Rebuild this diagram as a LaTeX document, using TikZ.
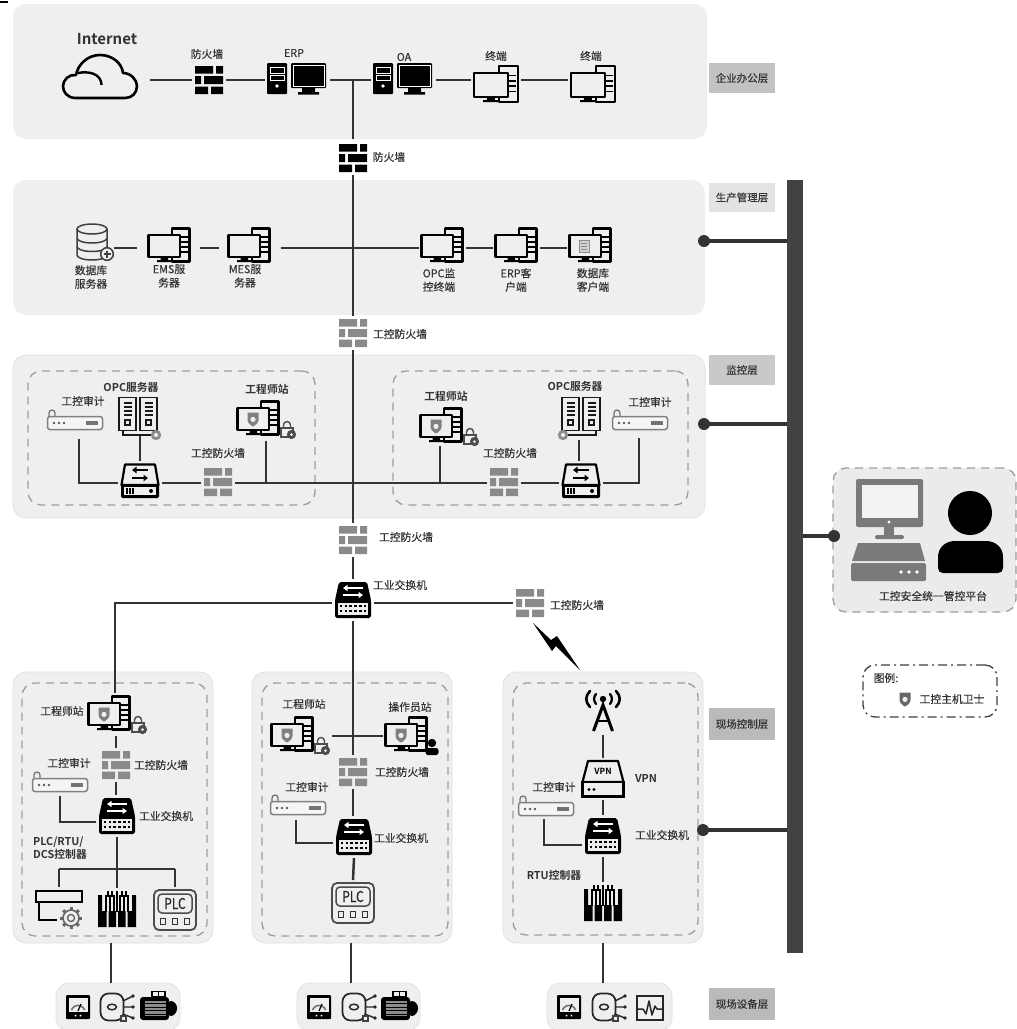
\documentclass[tikz,border=0pt]{standalone}
\usepackage{fontspec}
\setmainfont[FakeBold=0.35]{Noto Sans CJK SC}
\newfontfamily\boldcjk{Noto Sans CJK SC Bold}
\usetikzlibrary{fit,arrows.meta}
\definecolor{panelc}{HTML}{EFEFEF}
\definecolor{ink}{HTML}{333333}
\definecolor{fwgrey}{HTML}{8A8A8A}
\tikzset{
 panel/.style={fill=panelc,draw=panelc!94!black,rounded corners=13pt,inner sep=0pt,outer sep=0pt,line width=.8pt},
 softpanel/.style={fill=panelc,draw=none,rounded corners=13pt,inner sep=0pt,outer sep=0pt},
 dashbox/.style={draw=black!38,line width=1.3pt,dash pattern=on 8pt off 6pt,rounded corners=13pt,inner sep=0pt,outer sep=0pt},
 tagbox/.style={inner sep=0pt,outer sep=0pt,font=\fontsize{10.5}{12}\selectfont,text=ink},
 conn/.style={draw=ink,line width=2.5pt},
 branch/.style={draw=ink,line width=4.8pt},
 lab/.style={font=\fontsize{10.8}{13.5}\selectfont,text=ink,inner sep=0pt,align=center},
 blab/.style={lab,font=\fontsize{10.8}{13.5}\selectfont\boldcjk},
 ib/.style 2 args={minimum width=#1pt,minimum height=#2pt,inner sep=0pt,outer sep=3pt},
 hubdot/.style={circle,fill=ink,minimum size=12pt,inner sep=0pt,outer sep=0pt},
 bk/.style={draw=black,line width=2.1pt,fill=panelc,line join=round},
 pics/firewall/.style={code={
   \fill[#1] (-14,-14) rectangle (4,-6.5) (7,-14) rectangle (14,-6.5)
             (-14,-4) rectangle (-8,4) (-5,-4) rectangle (14,4)
             (-14,6.5) rectangle (-1,14) (2,6.5) rectangle (14,14);}},
 pics/cloud/.style={code={
   \draw[black,line width=2.6pt,fill=panelc,line join=round] (-24,21) .. controls (-33,21) and (-37,15) .. (-37,9) .. controls (-37,3) and (-31,-3) .. (-24,-2) .. controls (-22,-13) and (-12,-22) .. (0,-22) .. controls (12,-22) and (22,-14) .. (23,-4) .. controls (31,-4) and (37,3) .. (37,9) .. controls (37,16) and (32,21) .. (25,21) -- cycle;
   \draw[black,line width=2.4pt] (-22,-4) .. controls (-12,-6) and (1,-4) .. (1.6,8);}},
 pics/pcblack/.style={code={
   \fill[black,rounded corners=1pt] (-30,-16) rectangle (-10,15);
   \draw[white,line width=.8pt] (-27,-12) rectangle (-13,-6) (-27,-4) rectangle (-13,1);
   \fill[white] (-20,7) circle (1.8);
   \fill[black,rounded corners=1pt] (-6,-16) rectangle (29,9);
   \draw[white,line width=.7pt] (-4,-14) rectangle (27,7);
   \fill[black] (5,9) rectangle (18,13) (1,13) rectangle (22,15.5);}},
 pics/term/.style={code={
   \draw[bk] (3,-16.5) rectangle (20.5,16.5);
   \foreach \y in {-8,-3,2,7} \draw[black,line width=1.5pt] (12,\y) -- (18.5,\y);
   \draw[bk,fill=panelc] (-20.5,-10) rectangle (11,12);
   \fill[black] (-8.5,12) rectangle (-1,15) (-12,15) rectangle (3,17);}},
 pics/termbig/.style={code={\pic[scale=1.07] at (0,0) {term};}},
 pics/shieldicon/.style={code={
   \fill[#1] (-5.5,-6.5) -- (5.5,-6.5) -- (5.5,1) .. controls (5.5,4) and (2,6.5) .. (0,7.5) .. controls (-2,6.5) and (-5.5,4) .. (-5.5,1) -- cycle;
   \fill[panelc] (0,0.4) circle (2.6);}},
 pics/lockicon/.style={code={
   \draw[black!70,line width=1.4pt] (-3.5,-1) -- (-3.5,-4) arc (180:360:3.5) -- (3.5,-1);
   \draw[black!70,line width=1.4pt,fill=panelc] (-6,-1) rectangle (6,8);
   \fill[black!70] (4.5,5.5) circle (4.6);
   \fill[panelc] (4.5,5.5) circle (1.5);}},
 pics/termlock/.style={code={
   \pic at (-8,-1) {term};
   \pic at (-13,0) {shieldicon={black!50}};
   \pic at (21,10) {lockicon};}},
 pics/termperson/.style={code={
   \pic at (-6,-1) {term};
   \pic at (-11,0) {shieldicon={black!50}};
   \fill[black] (20,8) circle (4.2);
   \fill[black,rounded corners=2.5pt] (13.5,13) rectangle (26.5,20);}},
 pics/dbserver/.style={code={
   \draw[black!75,line width=1.5pt,fill=panelc] (-15,-13) -- (-15,13) arc (180:0:15 and 5) -- (15,-13);
   \draw[black!75,line width=1.5pt,fill=panelc] (0,-13) ellipse (15 and 5);
   \draw[black!75,line width=1.5pt] (-15,-4) arc (180:0:15 and 5) (-15,4.5) arc (180:0:15 and 5);
   \draw[black!75,line width=1.5pt,fill=panelc] (15,12) circle (6.3);
   \draw[black!75,line width=1.2pt] (11.5,12) -- (18.5,12) (15,8.5) -- (15,15.5);}},
 pics/dbclient/.style={code={
   \pic at (0,0) {term};
   \draw[black!45,line width=.9pt,fill=black!18] (-11,-5) rectangle (-1,7);
   \draw[black!45,line width=.7pt] (-9,-2) -- (-3,-2) (-9,1) -- (-3,1) (-9,4) -- (-3,4);}},
 pics/swblack/.style={code={
   \fill[black,rounded corners=1.8pt] (-14,-18) -- (14,-18) -- (18,0) -- (18,18) -- (-18,18) -- (-18,0) -- cycle;
   \fill[white!93!black] (-15,3) rectangle (15,15);
   \foreach \x in {-12,-7.2,...,13} \foreach \y in {6,11} \fill[black] (\x-1.3,\y-1.3) rectangle (\x+1.3,\y+1.3);
   \draw[white,line width=1.7pt,-{Triangle[length=4.5pt,width=6pt]}] (10,-12) -- (-10,-12);
   \draw[white,line width=1.7pt,-{Triangle[length=4.5pt,width=6pt]}] (-10,-5) -- (10,-5);}},
 pics/swlight/.style={code={
   \draw[black,line width=2.2pt,fill=panelc,line join=round] (-15,-16.5) -- (15,-16.5) -- (18.5,4) -- (-18.5,4) -- cycle;
   \fill[black,rounded corners=1.5pt] (-19,3) rectangle (19,17);
   \fill[panelc] (-16,6) rectangle (16,14);
   \draw[black,line width=1.1pt] (-13,7) -- (-13,13) (-10,7) -- (-10,13) (-7,7) -- (-7,13);
   \fill[black] (11,10) circle (2);
   \draw[black,line width=1.7pt,-{Triangle[length=4.5pt,width=6.5pt]}] (8,-11) -- (-8,-11);
   \draw[black,line width=1.7pt,-{Triangle[length=4.5pt,width=6.5pt]}] (-8,-3) -- (8,-3);}},
 pics/rack/.style={code={
   \draw[black!90,line width=1.9pt,fill=panelc] (-8.5,-16.5) rectangle (8.5,16.5);
   \foreach \y in {-11,-7,-3,1} \draw[black!90,line width=1.4pt] (-4,\y) -- (4,\y);
   \draw[black!90,line width=1.5pt] (-2.5,6) rectangle (2.5,11);}},
 pics/opcserver/.style={code={
   \draw[black!90,line width=1.8pt] (#1*-15,16.5) -- (#1*-15,21) -- (#1*19,21) -- (#1*19,16.5);
   \pic at (-10.5,0) {rack};
   \pic at (10.5,0) {rack};
   \fill[black!45] (#1*18,21) circle (5.2);
   \fill[panelc] (#1*18,21) circle (2);}},
 pics/auditbox/.style={code={
   \draw[black!55,line width=1.3pt] (-26,-6) -- (-26,-10) arc (180:360:3) -- (-20,-7) -- (-20,-6);
   \draw[black!50,line width=1.5pt,fill=white!96!black,rounded corners=2.5pt] (-27.5,-6.5) rectangle (27.5,6.5);
   \foreach \x in {-21,-16,-11} \fill[black!65] (\x,0) circle (1.4);
   \fill[black!55] (11,-2.2) rectangle (23,2.2);}},
 pics/piano/.style={code={
   \fill[black] (-19,2) rectangle (-10.5,18) (-8.5,2) rectangle (-1,18) (1,2) rectangle (8.5,18) (10.5,2) rectangle (19,18);
   \fill[black] (-19,-14) rectangle (-15,2) (15,-14) rectangle (19,2);
   \foreach \x in {-11,-7,-3,3,7,11} \draw[black,line width=1.6pt] (\x,-14) -- (\x,3);
   \draw[black,line width=1.6pt] (0,-18) -- (0,3);
   \draw[black,line width=1.6pt] (-9,-18) -- (-9,-12) (-5,-18) -- (-5,-12) (5,-18) -- (5,-12) (9,-18) -- (9,-12);}},
 pics/plcbox/.style={code={
   \draw[black!70,line width=1.8pt,fill=panelc,rounded corners=5pt] (-21,-20) rectangle (21,20);
   \draw[black!70,line width=1.5pt,rounded corners=4pt] (-17,-16) rectangle (17,3);
   \node[inner sep=0pt,font=\fontsize{15}{15}\selectfont,text=black!85,xscale=.8] (plcword) at (0,-6.5) {PLC};
   \foreach \x in {-12,0,12} \draw[black!80,line width=1.6pt] (\x-2.6,8.5) rectangle (\x+2.6,14.5);}},
 pics/ctrlbox/.style={code={
   \draw[black,line width=2.2pt,fill=panelc] (-23,-18) rectangle (23,-7);
   \draw[black,line width=2.2pt] (-20,-7) -- (-20,11) -- (-2,11);
   \foreach \a in {0,45,...,315} \draw[black!60,line width=3pt] (12,9)++(\a:7.5) -- ++(\a:3.5);
   \draw[black!60,line width=1.6pt,fill=panelc] (12,9) circle (8);
   \draw[black!60,line width=1.4pt] (12,9) circle (3.5);}},
 pics/meter/.style={code={
   \fill[black,rounded corners=1pt] (-12,-12) rectangle (12,12);
   \fill[panelc] (-9.5,-9.5) rectangle (9.5,5);
   \draw[black!55,line width=1.6pt] (-6.5,3) arc (200:340:7);
   \draw[black,line width=1.2pt] (0,4) -- (3,-3);
   \foreach \x in {-2.5,2.5} \fill[white] (\x,8.5) circle (1);}},
 pics/valve/.style={code={
   \draw[black!85,line width=1.7pt,rounded corners=8pt] (-11.5,-13.5) rectangle (11.5,13.5);
   \draw[black!85,line width=1.5pt] (0,0) ellipse (4.5 and 2.8);
   \draw[black!85,line width=1.4pt] (11,-6) -- (21,-11) (11,0) -- (21,0) (11,7) -- (21,11);
   \fill[black!85] (21,-11) circle (1.9) (21,0) circle (1.9) (21,11) circle (1.9);
   \draw[black!75,line width=1.1pt,fill=panelc] (9,9) rectangle (14,14);}},
 pics/motor/.style={code={
   \fill[black,rounded corners=3pt] (-19,-9) rectangle (10,14);
   \fill[black,rounded corners=3pt] (9,-5) -- (15,-5) -- (19,2) -- (15,10) -- (9,10) -- cycle;
   \fill[black!45] (-14,-5) rectangle (7,10);
   \foreach \y in {-2.5,1,4.5,8} \draw[black,line width=.9pt] (-14,\y) -- (7,\y);
   \draw[black,line width=1.8pt,fill=panelc] (-7,-14.5) rectangle (6,-9);
   \draw[black,line width=1.2pt] (-.5,-14.5) -- (-.5,-9);}},
 pics/wave/.style={code={
   \draw[black!85,line width=1.7pt] (-13,-12) rectangle (13,12);
   \draw[black!85,line width=1.5pt,line join=round] (-13,1) -- (-7,1) -- (-4,6) -- (-1,-7) -- (2,7) -- (5,-2) -- (7,1) -- (13,1);}},
 pics/mast/.style={code={
   \fill[black] (0,-12) circle (3.2);
   \foreach \s in {1,-1} {
     \draw[black,line width=2.3pt,line cap=round] (\s*7,-17) .. controls (\s*9.5,-14) and (\s*9.5,-10) .. (\s*7,-7);
     \draw[black,line width=2.6pt,line cap=round] (\s*13,-20) .. controls (\s*18,-15) and (\s*18,-9) .. (\s*13,-4);}
   \draw[black,line width=3pt,line join=miter] (-9.5,20) -- (0,-6) -- (9.5,20);
   \draw[black,line width=2.6pt] (-5.5,10) -- (5.5,10);}},
 pics/vpnbox/.style={code={
   \draw[black,line width=2.2pt,fill=panelc,line join=round] (-15,-18) -- (15,-18) -- (20.5,3) -- (-20.5,3) -- cycle;
   \draw[black,line width=2.2pt,fill=panelc] (-20.5,3) rectangle (20.5,17.5);
   \fill[black] (-14,10.5) circle (1.7) (-9,10.5) circle (1.7);
   \node[inner sep=0pt,font=\fontsize{8.5}{9}\selectfont\boldcjk,text=black] (vpnword) at (0,-8) {VPN};}},
}
\newcommand\icon[6]{\node[ib={#4}{#5}] (#1) at (#2,#3) {}; \pic at (#1.center) {#6};}
\newcommand\lab[4]{\node[lab] (#1) at (#2,#3) {#4};}
\newcommand\blabl[4]{\node[blab] (#1) at (#2,#3) {#4};}
\newcommand\boxat[6]{\node[fit={(#2,#3) (#4,#5)},inner sep=0pt,#6] (#1) {};}
\begin{document}
\begin{tikzpicture}[x=1pt,y=-1pt]
\useasboundingbox (0,0) rectangle (1017,1029);
\fill[white] (0,0) rectangle (1017,1029);
\coordinate (markl) at (0,2); \coordinate (markr) at (8,2);
\draw[black,line width=1.5pt] (markl) -- (markr);
% panels
\boxat{p1}{13}{4}{707}{139}{softpanel}
\boxat{p2}{13}{180}{705}{315}{softpanel}
\boxat{p3}{13}{355}{705}{518}{panel}
\boxat{pa}{13}{672}{213}{943}{panel}
\boxat{pb}{252}{672}{452}{943}{panel}
\boxat{pc}{503}{672}{703}{943}{panel}
\boxat{da}{56}{983}{180}{1031}{panel}
\boxat{db}{297}{983}{420}{1031}{panel}
\boxat{dc}{547}{983}{672}{1031}{panel}
\boxat{in1}{28}{371}{315}{505}{dashbox}
\boxat{in2}{393}{371}{688}{505}{dashbox}
\boxat{ina}{22}{683}{207}{936}{dashbox}
\boxat{inb}{262}{683}{448}{936}{dashbox}
\boxat{inc}{513}{683}{698}{935}{dashbox}
% platform and legend boxes
\boxat{plat}{833}{468}{1016}{612}{fill=black!8,dashbox}
\boxat{leg}{863}{665}{997}{717}{draw=black!75,line width=1.3pt,dash pattern=on 9pt off 4pt on 2pt off 4pt,rounded corners=12pt}
% layer tags
\boxat{t1}{709}{63}{775}{93}{fill=black!24,tagbox}
\boxat{t2}{709}{183}{775}{212}{fill=black!11,tagbox}
\boxat{t3}{709}{355}{775}{385}{fill=black!21,tagbox}
\boxat{t4}{709}{708}{775}{740}{fill=black!27,tagbox}
\boxat{t5}{709}{988}{775}{1020}{fill=black!27,tagbox}
\node[tagbox] (tt1) at (t1) {企业办公层};
\node[tagbox] (tt2) at (t2) {生产管理层};
\node[tagbox] (tt3) at (t3) {监控层};
\node[tagbox] (tt4) at (t4) {现场控制层};
\node[tagbox] (tt5) at (t5) {现场设备层};
% bus
\boxat{bus}{787}{180}{803}{953}{fill=black!74}
\node[hubdot] (h2) at (704,241) {};
\node[hubdot] (h3) at (704,424) {};
\node[hubdot] (h4) at (703,830) {};
\node[hubdot] (h5) at (834,536) {};
\draw[branch] (h2.center) -- (h2.center -| bus.west);
\draw[branch] (h3.center) -- (h3.center -| bus.west);
\draw[branch] (h4.center) -- (h4.center -| bus.west);
\draw[branch] (h5.center) -- (h5.center -| bus.east);
% icons row 1
\icon{cloud}{100}{77}{94}{44}{cloud}
\icon{fw1}{209}{80}{28}{28}{firewall=black}
\icon{erp}{297}{79}{59}{31}{pcblack}
\icon{oa}{403}{79}{59}{31}{pcblack}
\icon{tm1}{496}{84}{44}{37}{termbig}
\icon{tm2}{593}{84}{44}{37}{termbig}
\icon{fw2}{353}{158}{28}{28}{firewall=black}
% row 2
\icon{dbs}{92}{242}{38}{36}{dbserver}
\icon{ems}{169}{245}{41}{35}{term}
\icon{mes}{249}{245}{41}{35}{term}
\icon{opcm}{442}{245}{41}{35}{term}
\icon{erpc}{516}{245}{41}{35}{term}
\icon{dbc}{590}{245}{41}{35}{dbclient}
\icon{fw3}{353}{333}{28}{28}{firewall=fwgrey}
% layer 3
\icon{aul}{75}{423}{55}{13}{auditbox}
\icon{srvl}{138}{414}{38}{38}{opcserver=1}
\icon{swl}{140}{481}{38}{34}{swlight}
\icon{fwl}{218}{482}{28}{28}{firewall=fwgrey}
\icon{wsl}{266}{419}{57}{38}{termlock}
\icon{wsr}{449}{426}{57}{38}{termlock}
\icon{fwr}{504}{482}{28}{28}{firewall=fwgrey}
\icon{swr}{581}{481}{38}{34}{swlight}
\icon{srvr}{581}{414}{38}{38}{opcserver=-1}
\icon{aur}{640}{423}{55}{13}{auditbox}
\icon{fw4}{353}{540}{28}{28}{firewall=fwgrey}
\icon{swm}{353}{600}{36}{36}{swblack}
\icon{fw5}{530}{603}{28}{28}{firewall=fwgrey}
% field A
\icon{wsa}{117}{714}{57}{38}{termlock}
\icon{fwa}{116}{765}{28}{28}{firewall=fwgrey}
\icon{swa}{117}{816}{36}{36}{swblack}
\icon{aua}{60}{785}{55}{13}{auditbox}
\icon{ctrl}{59}{909}{46}{38}{ctrlbox}
\icon{pna}{117}{909}{38}{36}{piano}
\icon{plca}{175}{910}{42}{40}{plcbox}
\icon{ma}{78}{1007}{24}{24}{meter}
\icon{va}{112}{1007}{26}{28}{valve}
\icon{moa}{159}{1006}{38}{28}{motor}
% field B
\icon{wsb}{300}{735}{57}{38}{termlock}
\icon{wso}{412}{735}{53}{38}{termperson}
\icon{fwb}{353}{772}{28}{28}{firewall=fwgrey}
\icon{swb}{354}{837}{36}{36}{swblack}
\icon{aub}{298}{808}{55}{13}{auditbox}
\icon{plcb}{353}{903}{42}{40}{plcbox}
\icon{mb}{319}{1007}{24}{24}{meter}
\icon{vb}{354}{1007}{26}{28}{valve}
\icon{mob}{400}{1006}{38}{28}{motor}
% field C
\icon{mast}{603}{711}{36}{42}{mast}
\icon{vpn}{603}{779}{41}{36}{vpnbox}
\icon{swc}{603}{836}{36}{36}{swblack}
\icon{auc}{546}{809}{55}{13}{auditbox}
\icon{pnc}{603}{903}{38}{36}{piano}
\icon{mc}{569}{1007}{24}{24}{meter}
\icon{vc}{604}{1007}{26}{28}{valve}
\icon{wv}{650}{1008}{26}{24}{wave}
% platform
\fill[black!52,rounded corners=2pt] (856,479) rectangle (923,527);
\fill[black!5] (862,485) rectangle (918,518);
\fill[white] (889,522) circle (1.6);
\fill[black!52] (884,527) rectangle (894,536);
\fill[black!52,rounded corners=1.5pt] (875,535) rectangle (904,539);
\fill[black!52] (858,543) -- (920,543) -- (925,561) -- (852,561) -- cycle;
\fill[black!52,rounded corners=1.5pt] (851,563) rectangle (926,581);
\foreach \x in {901,909,917} \fill[white] (\x,572) circle (1.8);
\fill[black] (970,513) circle (22);
\fill[black] (938,568) -- (938,557) .. controls (938,547) and (946,541) .. (955,541) -- (986,541) .. controls (995,541) and (1003,547) .. (1003,557) -- (1003,568) .. controls (1003,571) and (1001,573) .. (998,573) -- (943,573) .. controls (940,573) and (938,571) .. (938,568) -- cycle;
\pic at (905,699) {shieldicon={black!60}};
% labels
\node[font=\fontsize{15}{18}\selectfont\boldcjk,text=ink,inner sep=0pt] (inet) at (107,39) {Internet};
\lab{l1}{207}{54}{防火墙}
\lab{l2}{294}{53}{ERP}
\lab{l3}{404}{57}{OA}
\lab{l4}{496}{56}{终端}
\lab{l5}{591}{56}{终端}
\lab{l6}{389}{157}{防火墙}
\lab{l7}{91}{277}{数据库\\服务器}
\lab{l8}{169}{276}{EMS服\\务器}
\lab{l9}{245}{276}{MES服\\务器}
\lab{l10}{439}{280}{OPC监\\控终端}
\lab{l11}{516}{280}{ERP客\\户端}
\lab{l12}{593}{280}{数据库\\客户端}
\lab{l13}{400}{334}{工控防火墙}
\blabl{l14}{131}{387}{OPC服务器}
\lab{l15}{83}{401}{工控审计}
\blabl{l16}{267}{389}{工程师站}
\lab{l17}{218}{453}{工控防火墙}
\blabl{l18}{446}{396}{工程师站}
\blabl{l19}{575}{386}{OPC服务器}
\lab{l20}{650}{402}{工控审计}
\lab{l21}{510}{453}{工控防火墙}
\lab{l22}{406}{537}{工控防火墙}
\lab{l23}{400}{585}{工业交换机}
\lab{l24}{577}{605}{工控防火墙}
\lab{l25}{62}{711}{工程师站}
\lab{l26}{69}{763}{工控审计}
\lab{l27}{161}{765}{工控防火墙}
\lab{l28}{166}{816}{工业交换机}
\node[blab,align=left] (l29) at (60,848) {PLC/RTU/\\DCS控制器};
\lab{l30}{304}{704}{工程师站}
\lab{l31}{410}{707}{操作员站}
\lab{l32}{402}{772}{工控防火墙}
\lab{l33}{307}{787}{工控审计}
\lab{l34}{401}{838}{工业交换机}
\lab{l35}{554}{787}{工控审计}
\blabl{l36}{646}{778}{VPN}
\lab{l37}{662}{835}{工业交换机}
\blabl{l38}{554}{875}{RTU控制器}
\lab{l39}{933}{596}{工控安全统一管控平台}
\lab{l40}{886}{678}{图例:}
\lab{l41}{952}{699}{工控主机卫士}
% connector helpers
\coordinate (r1) at (0,80);
\coordinate (r2) at (0,248);
\coordinate (r3) at (0,483);
\coordinate (r6) at (0,603);
\coordinate (j1) at (353,80);
\coordinate (j1b) at (353,139);
\coordinate (va1) at (115,693);
\coordinate (rb) at (0,736);
\coordinate (au1s) at (79,439);
\coordinate (au2s) at (639,438);
\coordinate (xsrv) at (140,436);
\coordinate (xsrv2) at (579,440);
\coordinate (xwsr) at (440,446);
\coordinate (xa) at (111,0);
\coordinate (xb) at (351,0);
\coordinate (xc) at (603,0);
\coordinate (rba) at (0,869);
\coordinate (aas) at (60,796);
\coordinate (abs) at (296,820);
\coordinate (acs) at (544,819);
\coordinate (ya) at (0,822);
\coordinate (yb) at (0,843);
\coordinate (yc) at (0,845);
% connectors
\draw[conn] (cloud.east |- r1) -- (fw1.west |- r1);
\draw[conn] (fw1.east |- r1) -- (erp.west |- r1);
\draw[conn] (erp.east |- r1) -- (oa.west |- r1);
\draw[conn] (oa.east |- r1) -- (tm1.west |- r1);
\draw[conn] (tm1.east |- r1) -- (tm2.west |- r1);
\draw[conn] (j1) -- (j1b);
\draw[conn] (fw2.south) -- (fw3.north);
\draw[conn,shorten >=9pt] (dbs.east |- r2) -- (ems.west |- r2);
\draw[conn,shorten <=7pt,shorten >=7pt] (ems.east |- r2) -- (mes.west |- r2);
\draw[conn,shorten <=8pt] (mes.east |- r2) -- (opcm.west |- r2);
\draw[conn] (opcm.east |- r2) -- (erpc.west |- r2);
\draw[conn] (erpc.east |- r2) -- (dbc.west |- r2);
\draw[conn] (fw3.south) -- (fw4.north);
\draw[conn] (au1s) |- (swl.west |- r3);
\draw[conn] (xsrv) -- (swl.north);
\draw[conn] (swl.east |- r3) -- (fwl.west |- r3);
\draw[conn] (fwl.east |- r3) -- (fwr.west |- r3);
\draw[conn] (wsl.south) -- (wsl.south |- r3);
\draw[conn] (xwsr) -- (xwsr |- r3);
\draw[conn] (fwr.east |- r3) -- (swr.west |- r3);
\draw[conn] (swr.east |- r3) -| (au2s);
\draw[conn] (xsrv2) -- (xsrv2 |- swr.north);
\draw[conn] (fw4.south) -- (swm.north);
\draw[conn] (swm.west |- r6) -| (va1);
\draw[conn] (swm.east |- r6) -- (fw5.west |- r6);
\draw[conn] (swm.south) -- (fwb.north);
\draw[conn] (wsb.east |- rb) -- (wso.west |- rb);
\draw[conn] (wsa.south -| fwa.north) -- (fwa.north);
\draw[conn] (fwa.south) -- (fwa.south |- swa.north);
\draw[conn] (aas) |- (swa.west |- ya);
\draw[conn] (swa.south) -- (pna.north);
\draw[conn] (ctrl.north |- rba) -- (plca.north |- rba);
\draw[conn] (ctrl.north |- rba) -- (ctrl.north);
\draw[conn] (plca.north |- rba) -- (plca.north);
\draw[conn] (fwb.south) -- (fwb.south |- swb.north);
\draw[conn] (abs) |- (swb.west |- yb);
\draw[conn] (swb.south) -- (plcb.north);
\draw[conn] (mast.south) -- (vpn.north);
\draw[conn] (vpn.south) -- (swc.north);
\draw[conn] (acs) |- (swc.west |- yc);
\draw[conn] (swc.south) -- (pnc.north);
\draw[conn] (pa.south -| xa) -- (da.north -| xa);
\draw[conn] (pb.south -| xb) -- (db.north -| xb);
\draw[conn] (pc.south -| xc) -- (dc.north -| xc);
% lightning
\fill[black] (533,623) -- (551,640) -- (557,636) -- (580,670) -- (556,646) -- (552,651) -- cycle;
\end{tikzpicture}
\end{document}
